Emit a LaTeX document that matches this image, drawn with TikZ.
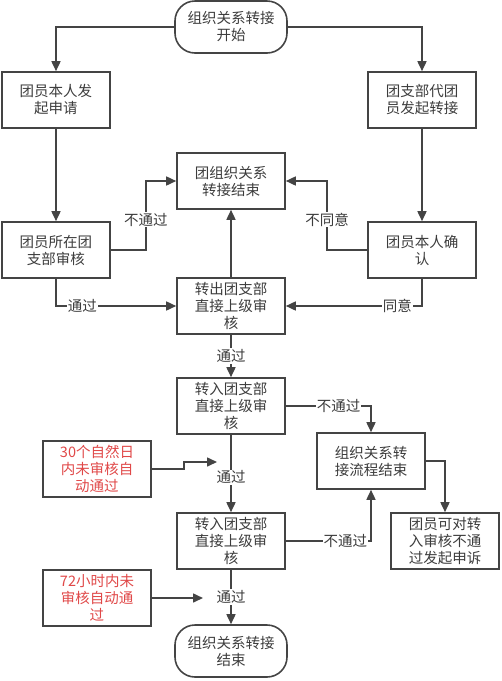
\documentclass[tikz,border=0pt]{standalone}
\usepackage{fontspec}
\setmainfont{Noto Sans CJK SC}
\usetikzlibrary{arrows.meta}
\definecolor{ln}{HTML}{444444}
\definecolor{tx}{HTML}{3C3C3C}
\definecolor{rd}{HTML}{E04848}
\begin{document}
\begin{tikzpicture}[x=1pt,y=-1pt,
  every node/.style={font=\fontsize{14.5}{17}\selectfont, text=tx, align=center},
  box/.style={draw=ln, line width=1.6pt, minimum width=108pt, minimum height=56pt, inner sep=2pt},
  term/.style={draw=ln, line width=1.6pt, rounded corners=20pt, minimum width=112pt, minimum height=52pt, inner sep=2pt},
  redbox/.style={box, text=rd},
  arr/.style={draw=ln, line width=1.6pt, -{Triangle[length=10pt,width=9pt]}},
  plain/.style={draw=ln, line width=1.6pt},
  lbl/.style={fill=white, inner sep=1pt, text=tx}]
\useasboundingbox (0,0) rectangle (502,681);
\node[term] (S) at (231,27) {组织关系转接\\开始};
\node[box] (A) at (56,100) {团员本人发\\起申请};
\node[box] (B) at (422,100) {团支部代团\\员发起转接};
\node[box] (C) at (231,181) {团组织关系\\转接结束};
\node[box] (D) at (56,250) {团员所在团\\支部审核};
\node[box] (E) at (422,250) {团员本人确\\认};
\node[box] (F) at (231,306) {转出团支部\\直接上级审\\核};
\node[box] (G) at (231,406) {转入团支部\\直接上级审\\核};
\node[box] (H) at (371,461) {组织关系转\\接流程结束};
\node[box] (I) at (445,541) {团员可对转\\入审核不通\\过发起申诉};
\node[box] (J) at (231,541) {转入团支部\\直接上级审\\核};
\node[redbox] (K) at (97,469) {30个自然日\\内未审核自\\动通过};
\node[redbox] (L) at (97,598) {72小时内未\\审核自动通\\过};
\node[term] (M) at (231,651) {组织关系转接\\结束};
\coordinate (kend) at (217,462);
\coordinate (lend) at (203,598);

\draw[arr] (S.west) -| (A.north);
\draw[arr] (S.east) -| (B.north);
\draw[arr] (A) -- (D);
\draw[arr] (B) -- (E);
\draw[arr] (D.east) -- ++(35,0) |- node[lbl,pos=0.22]{不通过} (C.west);
\draw[arr] (E.west) -- ++(-40,0) |- node[lbl,pos=0.22]{不同意} (C.east);
\draw[arr] (F) -- (C);
\draw[arr] (D.south) |- node[lbl,pos=0.61]{通过} (F.west);
\draw[arr] (E.south) |- node[lbl,pos=0.59]{同意} (F.east);
\draw[arr] (F) -- node[lbl]{通过} (G);
\draw[arr] (G.east) -| node[lbl,pos=0.31]{不通过} (H.north);
\draw[arr] (H.east) -| (I.north);
\draw[arr] (G) -- node[lbl,pos=0.55]{通过} (J);
\draw[arr] (J.east) -| node[lbl,pos=0.35]{不通过} (H.south);
\draw[arr] (J) -- node[lbl]{通过} (M);
\draw[arr] (K.east) -- ++(32,0) |- (kend);
\draw[arr] (L.east) -- (lend);
\end{tikzpicture}
\end{document}
